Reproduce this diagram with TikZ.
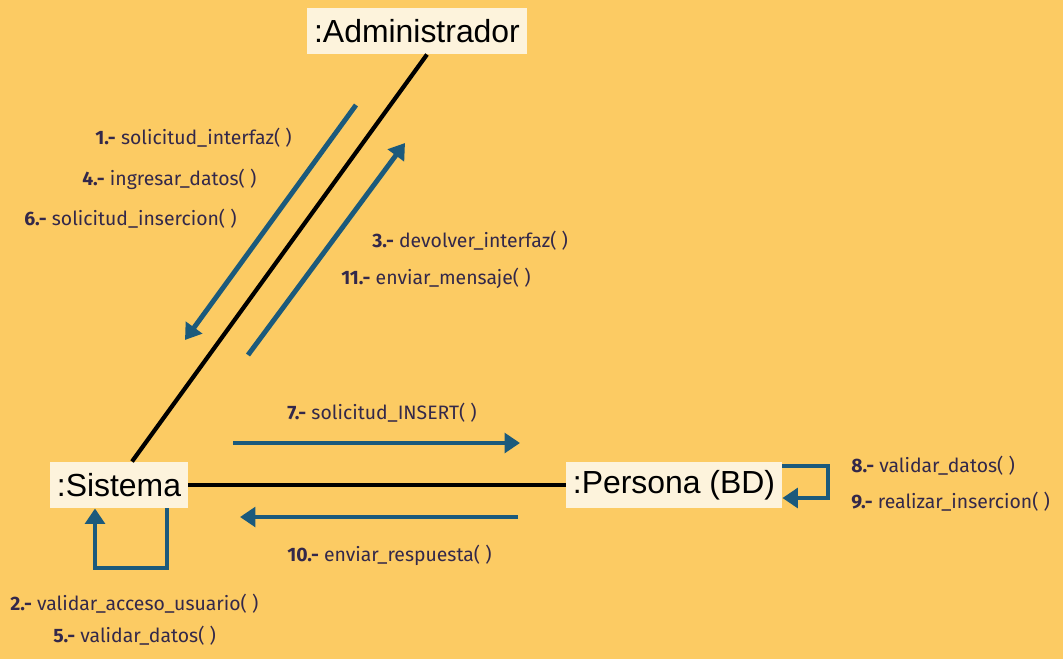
\documentclass[tikz,border=0pt]{standalone}
\usepackage{fontspec}
\setmainfont{Liberation Sans}
\newfontfamily\msgfont{Fira Sans}
\usetikzlibrary{arrows.meta}
\definecolor{bgyellow}{HTML}{FCCB63}
\definecolor{boxcream}{HTML}{FDF3DC}
\definecolor{msgblue}{HTML}{1B5A7C}
\definecolor{msgtext}{HTML}{33284A}
\tikzstyle{obj}=[fill=boxcream, font=\fontsize{22.7}{24}\selectfont, inner xsep=5pt, minimum height=33pt]
\tikzstyle{link}=[line width=3pt, black]
\tikzstyle{msg}=[-{Triangle[length=11pt,width=14pt]}, line width=3.5pt, msgblue]
\tikzstyle{lbl}=[anchor=west, inner sep=0pt, text=msgtext, font=\msgfont\fontsize{13.8}{15}\selectfont]
\newcommand{\num}[1]{\textbf{#1.-}}

\begin{document}
\begin{tikzpicture}[x=0.025cm, y=-0.025cm]

    % background
    \fill[bgyellow] (0,0) rectangle (1063,659);

    % objects
    \node[obj] (adm) at (417,31) {:Administrador};
    \node[obj] (sis) at (119,485) {:Sistema};
    \node[obj] (per) at (674,485) {:Persona (BD)};

    % links
    \draw[link] (adm.south -| 427,0) -- (sis.north -| 132,0);
    \draw[link] (sis) -- (per);

    % free ends of the messages
    \coordinate (m1a) at (356,105);
    \coordinate (m1b) at (185,340);
    \coordinate (m3a) at (248,355);
    \coordinate (m3b) at (405,143);
    \coordinate (m7a) at (233,443);
    \coordinate (m7b) at (520,443);
    \coordinate (m10a) at (518,517);
    \coordinate (m10b) at (240,517);
    \coordinate (sisR) at (167,568);
    \coordinate (sisL) at (95,568);
    \coordinate (perT) at (828,466);
    \coordinate (perB) at (828,498);

    % messages
    \draw[msg] (m1a) -- (m1b);
    \draw[msg] (m3a) -- (m3b);
    \draw[msg] (m7a) -- (m7b);
    \draw[msg] (m10a) -- (m10b);
    \draw[msg] (sis.south -| sisR) -- (sisR) -- (sisL) -- (sis.south -| sisL);
    \draw[msg] (per.east |- perT) -- (perT) -- (perB) -- (per.east |- perB);

    % labels
    \node[lbl] (l1) at (95,138) {\num{1} solicitud\_interfaz( )};
    \node[lbl] (l4) at (82,179) {\num{4} ingresar\_datos( )};
    \node[lbl] (l6) at (24,219) {\num{6} solicitud\_insercion( )};
    \node[lbl] (l3) at (372,241) {\num{3} devolver\_interfaz( )};
    \node[lbl] (l11) at (341,278) {\num{11} enviar\_mensaje( )};
    \node[lbl] (l7) at (287,413) {\num{7} solicitud\_INSERT( )};
    \node[lbl] (l10) at (287,555) {\num{10} enviar\_respuesta( )};
    \node[lbl] (l2) at (10,604) {\num{2} validar\_acceso\_usuario( )};
    \node[lbl] (l5) at (53,636) {\num{5} validar\_datos( )};
    \node[lbl] (l8) at (851,466) {\num{8} validar\_datos( )};
    \node[lbl] (l9) at (851,502) {\num{9} realizar\_insercion( )};

\end{tikzpicture}
\end{document}
